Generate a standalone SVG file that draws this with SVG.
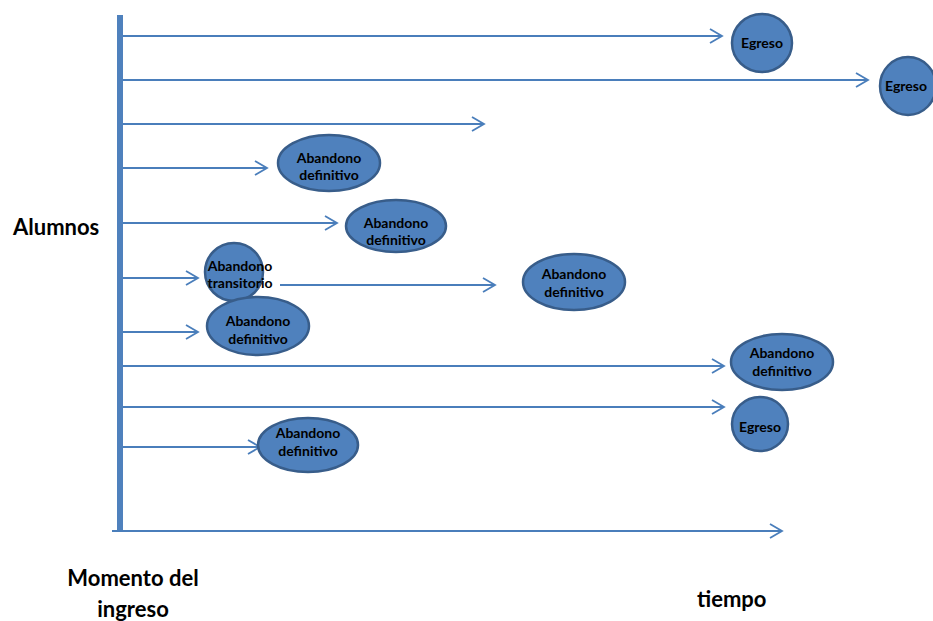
<svg xmlns="http://www.w3.org/2000/svg" width="933" height="621" viewBox="0 0 933 621">
<style>
.ln{stroke:#4A7EBB;stroke-width:1.8;fill:none}
.nd{fill:#4F81BD;stroke:#385D8A;stroke-width:2.5}
.nt{font-family:Lato,"Open Sans","Liberation Sans",sans-serif;font-weight:bold;font-size:14px;fill:#000;text-anchor:middle}
.lb{font-family:Lato,"Open Sans","Liberation Sans",sans-serif;font-weight:bold;font-size:22px;fill:#000}
</style>
<defs>
<marker id="ah" markerUnits="userSpaceOnUse" viewBox="-2 -2 16 18" markerWidth="16" markerHeight="18" refX="12" refY="7" orient="auto">
<path d="M0,0 L12,7 L0,14" fill="none" stroke="#4A7EBB" stroke-width="1.8"/>
</marker>
</defs>
<rect x="117" y="15" width="6" height="516" fill="#4F81BD"/>
<g id="connectors">
<line class="ln" x1="123" y1="36" x2="722" y2="36" marker-end="url(#ah)"/>
<line class="ln" x1="123" y1="80" x2="868" y2="80" marker-end="url(#ah)"/>
<line class="ln" x1="123" y1="124" x2="484" y2="124" marker-end="url(#ah)"/>
<line class="ln" x1="123" y1="168" x2="267" y2="168" marker-end="url(#ah)"/>
<line class="ln" x1="123" y1="223" x2="337" y2="223" marker-end="url(#ah)"/>
<line class="ln" x1="123" y1="278" x2="198" y2="278" marker-end="url(#ah)"/>
<line class="ln" x1="280" y1="285" x2="495" y2="285" marker-end="url(#ah)"/>
<line class="ln" x1="123" y1="332" x2="198" y2="332" marker-end="url(#ah)"/>
<line class="ln" x1="123" y1="366" x2="724" y2="366" marker-end="url(#ah)"/>
<line class="ln" x1="123" y1="407" x2="724" y2="407" marker-end="url(#ah)"/>
<line class="ln" x1="123" y1="447" x2="260" y2="447" marker-end="url(#ah)"/>
<line class="ln" x1="112" y1="531" x2="782" y2="531" marker-end="url(#ah)"/>
</g>
<g id="egreso1"><ellipse class="nd" cx="762" cy="43" rx="30" ry="29"/><text class="nt" x="762" y="48" font-size="15">Egreso</text></g>
<g id="egreso2"><ellipse class="nd" cx="908" cy="86" rx="28" ry="29"/><text class="nt" x="906" y="91" font-size="15">Egreso</text></g>
<g id="abandono1"><ellipse class="nd" cx="329" cy="163" rx="51" ry="28"/><text class="nt" x="329" y="163">Abandono</text><text class="nt" x="329" y="180">definitivo</text></g>
<g id="abandono2"><ellipse class="nd" cx="396" cy="226" rx="50" ry="26"/><text class="nt" x="396" y="228">Abandono</text><text class="nt" x="396" y="245">definitivo</text></g>
<g id="transitorio"><ellipse class="nd" cx="234" cy="272" rx="29" ry="29"/><text class="nt" x="240" y="271">Abandono</text><text class="nt" x="240" y="288">transitorio</text></g>
<g id="abandono3"><ellipse class="nd" cx="574" cy="282" rx="51" ry="28"/><text class="nt" x="574" y="279">Abandono</text><text class="nt" x="574" y="297">definitivo</text></g>
<g id="abandono4"><ellipse class="nd" cx="258" cy="326" rx="51" ry="29"/><text class="nt" x="258" y="326">Abandono</text><text class="nt" x="258" y="344">definitivo</text></g>
<g id="abandono5"><ellipse class="nd" cx="782" cy="362" rx="51" ry="28"/><text class="nt" x="782" y="358">Abandono</text><text class="nt" x="782" y="376">definitivo</text></g>
<g id="egreso3"><ellipse class="nd" cx="760" cy="424" rx="28" ry="27"/><text class="nt" x="760" y="432" font-size="15">Egreso</text></g>
<g id="abandono6"><ellipse class="nd" cx="308" cy="445" rx="50" ry="27"/><text class="nt" x="308" y="438">Abandono</text><text class="nt" x="308" y="456">definitivo</text></g>
<g id="labels">
<text class="lb" x="13" y="235">Alumnos</text>
<text class="lb" x="133" y="586" text-anchor="middle">Momento del</text>
<text class="lb" x="133" y="617" text-anchor="middle">ingreso</text>
<text class="lb" x="697" y="607">tiempo</text>
</g>
</svg>
